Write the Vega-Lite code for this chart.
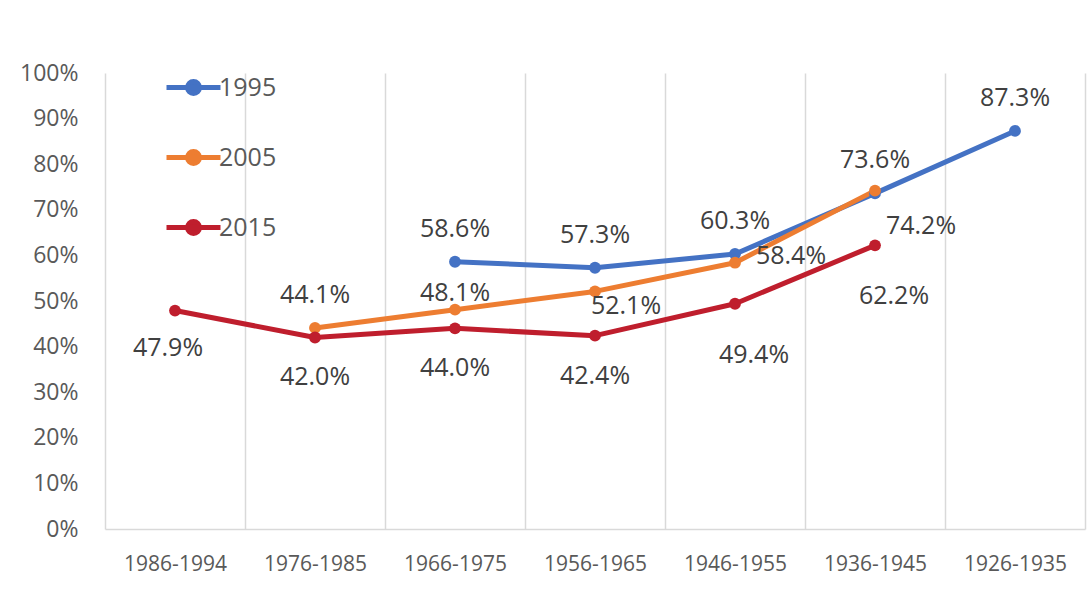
{
  "$schema": "https://vega.github.io/schema/vega-lite/v6.json",
  "width": 980,
  "height": 456,
  "autosize": "none",
  "padding": {"left": 105, "top": 73, "right": 6, "bottom": 74},
  "background": "white",
  "config": {
    "font": "Open Sans",
    "view": {"stroke": null},
    "axis": {"labelFont": "Open Sans", "labelColor": "#595959"}
  },
  "data": {
    "values": [
      {"series": "1995", "cohort": "1966-1975", "value": 0.586},
      {"series": "1995", "cohort": "1956-1965", "value": 0.573},
      {"series": "1995", "cohort": "1946-1955", "value": 0.603},
      {"series": "1995", "cohort": "1936-1945", "value": 0.736},
      {"series": "1995", "cohort": "1926-1935", "value": 0.873},
      {"series": "2005", "cohort": "1976-1985", "value": 0.441},
      {"series": "2005", "cohort": "1966-1975", "value": 0.481},
      {"series": "2005", "cohort": "1956-1965", "value": 0.521},
      {"series": "2005", "cohort": "1946-1955", "value": 0.584},
      {"series": "2005", "cohort": "1936-1945", "value": 0.742},
      {"series": "2015", "cohort": "1986-1994", "value": 0.479},
      {"series": "2015", "cohort": "1976-1985", "value": 0.420},
      {"series": "2015", "cohort": "1966-1975", "value": 0.440},
      {"series": "2015", "cohort": "1956-1965", "value": 0.424},
      {"series": "2015", "cohort": "1946-1955", "value": 0.494},
      {"series": "2015", "cohort": "1936-1945", "value": 0.622}
    ]
  },
  "encoding": {
    "x": {
      "field": "cohort",
      "type": "nominal",
      "sort": ["1986-1994", "1976-1985", "1966-1975", "1956-1965", "1946-1955", "1936-1945", "1926-1935"],
      "scale": {"type": "band", "paddingInner": 0, "paddingOuter": 0},
      "axis": {
        "title": null,
        "labelAngle": 0,
        "labelFontSize": 21,
        "ticks": false,
        "tickBand": "extent",
        "grid": true,
        "gridColor": "#d9d9d9",
        "gridWidth": 1.5,
        "domain": true,
        "domainColor": "#d9d9d9",
        "domainWidth": 1.5,
        "labelPadding": 24
      }
    },
    "y": {
      "field": "value",
      "type": "quantitative",
      "scale": {"domain": [0, 1], "nice": false},
      "axis": {
        "title": null,
        "format": ".0%",
        "labelFontSize": 23,
        "values": [0, 0.1, 0.2, 0.3, 0.4, 0.5, 0.6, 0.7, 0.8, 0.9, 1],
        "grid": false,
        "domain": false,
        "ticks": false,
        "labelPadding": 27
      }
    }
  },
  "layer": [
    {
      "mark": {"type": "line", "strokeWidth": 5, "strokeCap": "round", "strokeJoin": "round"},
      "encoding": {
        "color": {
          "field": "series",
          "type": "nominal",
          "scale": {"domain": ["1995", "2005", "2015"], "range": ["#4472C4", "#ED7D31", "#BF1E2D"]},
          "legend": {
            "title": null,
            "orient": "none",
            "legendX": 59,
            "legendY": -15,
            "padding": 0,
            "symbolType": "M-1,0L1,0M-0.22,0A0.22,0.22 0 1 1 0.22,0A0.22,0.22 0 1 1 -0.22,0Z",
            "symbolSize": 2916,
            "symbolStrokeWidth": 5,
            "labelFontSize": 25,
            "labelFont": "Open Sans",
            "labelColor": "#595959",
            "labelOffset": -4,
            "rowPadding": 24,
            "encode": {
              "symbols": {
                "update": {
                  "fill": {"scale": "color", "field": "value"},
                  "stroke": {"scale": "color", "field": "value"},
                  "strokeWidth": {"value": 5},
                  "opacity": {"value": 1}
                }
              }
            }
          }
        }
      }
    },
    {
      "mark": {"type": "point", "shape": "circle", "filled": true, "size": 140, "opacity": 1},
      "encoding": {
        "color": {"field": "series", "type": "nominal", "legend": null}
      }
    },
    {
      "transform": [{"filter": "datum.series == '1995' || (datum.series == '2005' && datum.cohort == '1976-1985')"}],
      "mark": {"type": "text", "fontSize": 25, "color": "#404040", "dy": -33, "align": "center", "baseline": "middle"},
      "encoding": {"text": {"field": "value", "format": ".1%"}}
    },
    {
      "transform": [{"filter": "datum.series == '2005' && datum.cohort == '1966-1975'"}],
      "mark": {"type": "text", "fontSize": 25, "color": "#404040", "dy": -17, "align": "center", "baseline": "middle"},
      "encoding": {"text": {"field": "value", "format": ".1%"}}
    },
    {
      "transform": [{"filter": "datum.series == '2005' && datum.cohort == '1956-1965'"}],
      "mark": {"type": "text", "fontSize": 25, "color": "#404040", "dx": 31, "dy": 15, "align": "center", "baseline": "middle"},
      "encoding": {"text": {"field": "value", "format": ".1%"}}
    },
    {
      "transform": [{"filter": "datum.series == '2005' && datum.cohort == '1946-1955'"}],
      "mark": {"type": "text", "fontSize": 25, "color": "#404040", "dx": 56, "dy": -7, "align": "center", "baseline": "middle"},
      "encoding": {"text": {"field": "value", "format": ".1%"}}
    },
    {
      "transform": [{"filter": "datum.series == '2005' && datum.cohort == '1936-1945'"}],
      "mark": {"type": "text", "fontSize": 25, "color": "#404040", "dx": 46, "dy": 35, "align": "center", "baseline": "middle"},
      "encoding": {"text": {"field": "value", "format": ".1%"}}
    },
    {
      "transform": [{"filter": "datum.series == '2015' && datum.cohort == '1986-1994'"}],
      "mark": {"type": "text", "fontSize": 25, "color": "#404040", "dx": -7, "dy": 37, "align": "center", "baseline": "middle"},
      "encoding": {"text": {"field": "value", "format": ".1%"}}
    },
    {
      "transform": [{"filter": "datum.series == '2015' && (datum.cohort == '1976-1985' || datum.cohort == '1966-1975' || datum.cohort == '1956-1965')"}],
      "mark": {"type": "text", "fontSize": 25, "color": "#404040", "dy": 40, "align": "center", "baseline": "middle"},
      "encoding": {"text": {"field": "value", "format": ".1%"}}
    },
    {
      "transform": [{"filter": "datum.series == '2015' && (datum.cohort == '1946-1955' || datum.cohort == '1936-1945')"}],
      "mark": {"type": "text", "fontSize": 25, "color": "#404040", "dx": 19, "dy": 51, "align": "center", "baseline": "middle"},
      "encoding": {"text": {"field": "value", "format": ".1%"}}
    }
  ]
}
